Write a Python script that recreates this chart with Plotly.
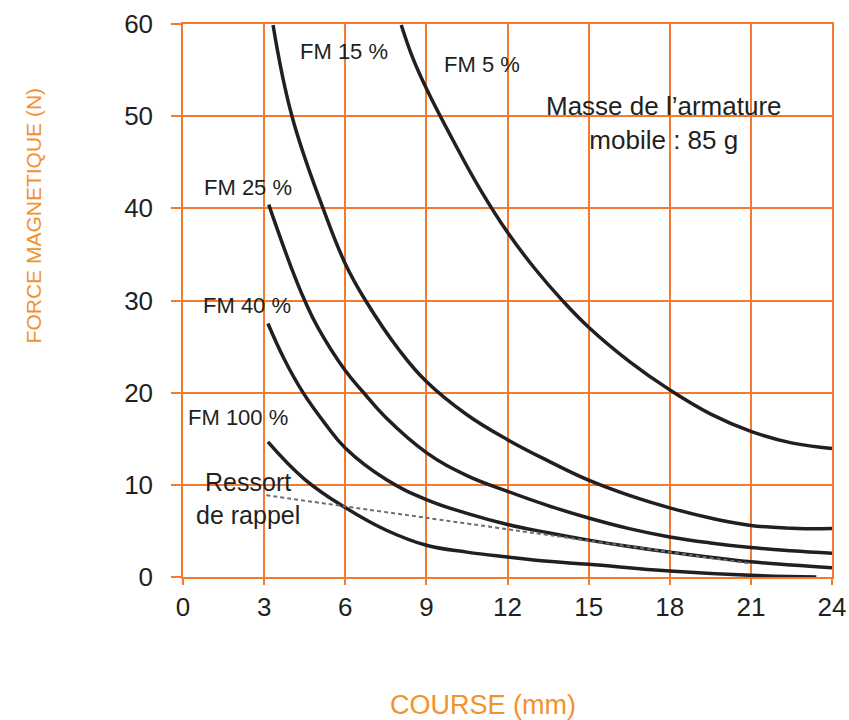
import plotly.graph_objects as go

# --- data ---
fm5_x = [8.07, 8.5, 9.0, 10.0, 11.0, 12.0, 13.0, 14.0, 15.0, 16.5, 18.0, 19.5, 21.0, 22.5, 24.0]
fm5_y = [59.9, 56.3, 53.0, 47.3, 42.0, 37.4, 33.5, 30.1, 27.1, 23.4, 20.3, 17.7, 15.8, 14.55, 13.95]

fm15_x = [3.33, 4.03, 5.18, 6.0, 6.75, 8.0, 9.0, 10.5, 12.0, 13.5, 15.0, 16.5, 18.0, 19.5, 21.0, 22.5, 24.0]
fm15_y = [59.9, 50.0, 40.0, 34.0, 30.0, 24.6, 21.2, 17.6, 14.9, 12.6, 10.5, 8.85, 7.5, 6.4, 5.6, 5.3, 5.25]

fm25_x = [3.17, 4.0, 4.5, 5.0, 6.0, 6.65, 7.5, 9.0, 10.5, 12.0, 13.5, 15.0, 16.5, 18.0, 19.5, 21.0, 22.5, 24.2]
fm25_y = [40.4, 33.6, 30.0, 27.0, 22.4, 20.1, 17.3, 13.5, 11.0, 9.3, 7.75, 6.4, 5.25, 4.35, 3.7, 3.2, 2.85, 2.55]

fm40_x = [3.14, 3.75, 4.44, 5.24, 6.0, 7.5, 9.0, 10.5, 12.0, 13.5, 15.0, 16.5, 18.0, 19.5, 21.0, 22.5, 24.0]
fm40_y = [27.5, 23.6, 20.0, 16.7, 14.0, 10.6, 8.4, 6.9, 5.7, 4.8, 4.0, 3.3, 2.7, 2.15, 1.65, 1.3, 1.0]

fm100_x = [3.14, 4.5, 6.0, 7.5, 9.0, 10.5, 12.0, 13.5, 15.0, 18.0, 21.0, 23.42]
fm100_y = [14.66, 10.6, 7.53, 5.1, 3.44, 2.7, 2.17, 1.7, 1.38, 0.65, 0.18, 0.0]

ressort_x = [3.08, 6.0, 9.0, 13.74, 21.0]
ressort_y = [8.87, 7.66, 6.42, 4.46, 1.45]

x_ticks = [0, 3, 6, 9, 12, 15, 18, 21, 24]
y_ticks = [0, 10, 20, 30, 40, 50, 60]

curve_labels = [
    ("FM 15 %", 5.97, 57.05),
    ("FM 5 %", 11.04, 55.6),
    ("FM 25 %", 2.40, 42.3),
    ("FM 40 %", 2.35, 29.5),
    ("FM 100 %", 2.03, 17.3),
]

ORANGE = "#F47A30"
TITLE_ORANGE = "#F2922C"
INK = "#231F20"
SANS = "Liberation Sans, Arial, Helvetica, sans-serif"

fig = go.Figure()
for xs, ys in [(fm5_x, fm5_y), (fm15_x, fm15_y), (fm25_x, fm25_y), (fm40_x, fm40_y), (fm100_x, fm100_y)]:
    fig.add_trace(go.Scatter(x=xs, y=ys, mode="lines",
                             line=dict(color=INK, width=3.5, shape="spline", smoothing=1.2),
                             showlegend=False, hoverinfo="skip"))
fig.add_trace(go.Scatter(x=ressort_x, y=ressort_y, mode="lines",
                         line=dict(color="#6D6E71", width=2, dash="4px,3px", shape="spline", smoothing=0.8),
                         showlegend=False, hoverinfo="skip"))

for txt, x, y in curve_labels:
    fig.add_annotation(x=x, y=y, xref="x", yref="y", text=txt, showarrow=False,
                       font=dict(family=SANS, size=22, color=INK), xanchor="center", yanchor="middle")

fig.add_annotation(x=2.4, y=8.5, xref="x", yref="y", text="Ressort<br>de rappel", showarrow=False,
                   font=dict(family=SANS, size=25, color=INK), xanchor="center", yanchor="middle")
fig.add_annotation(x=17.8, y=49.3, xref="x", yref="y", text="Masse de l’armature<br>mobile : 85 g",
                   showarrow=False, font=dict(family=SANS, size=26, color=INK),
                   xanchor="center", yanchor="middle")

fig.add_annotation(x=0.462, y=-0.232, xref="paper", yref="paper", text="COURSE (mm)", showarrow=False,
                   font=dict(family=SANS, size=27, color=TITLE_ORANGE), xanchor="center", yanchor="middle")
fig.add_annotation(x=-0.231, y=0.654, xref="paper", yref="paper", text="FORCE MAGNETIQUE (N)",
                   showarrow=False, textangle=-90,
                   font=dict(family=SANS, size=21, color=TITLE_ORANGE), xanchor="center", yanchor="middle")

fig.update_xaxes(range=[0, 24], tickvals=x_ticks, ticktext=[str(v) for v in x_ticks],
                 showgrid=True, gridcolor=ORANGE, gridwidth=1.5,
                 showline=True, linecolor=ORANGE, linewidth=1.5, mirror=True,
                 ticks="outside", ticklen=6, tickwidth=1.5, tickcolor=ORANGE,
                 tickfont=dict(family=SANS, size=26, color=INK), ticklabelstandoff=0,
                 zeroline=False, fixedrange=True, automargin=False)
fig.update_yaxes(range=[0, 60], tickvals=y_ticks, ticktext=[str(v) for v in y_ticks],
                 showgrid=True, gridcolor=ORANGE, gridwidth=1.5,
                 showline=True, linecolor=ORANGE, linewidth=1.5, mirror=True,
                 ticks="outside", ticklen=10, tickwidth=1.5, tickcolor=ORANGE,
                 tickfont=dict(family=SANS, size=26, color=INK), ticklabelstandoff=13,
                 zeroline=False, fixedrange=True, automargin=False)

fig.update_layout(width=849, height=720, margin=dict(l=183, r=17, t=24, b=143, autoexpand=False),
                  plot_bgcolor="white", paper_bgcolor="white", showlegend=False)

fig.write_html("out.html", config={"displayModeBar": False},
               post_script="document.body.style.margin='0';")
